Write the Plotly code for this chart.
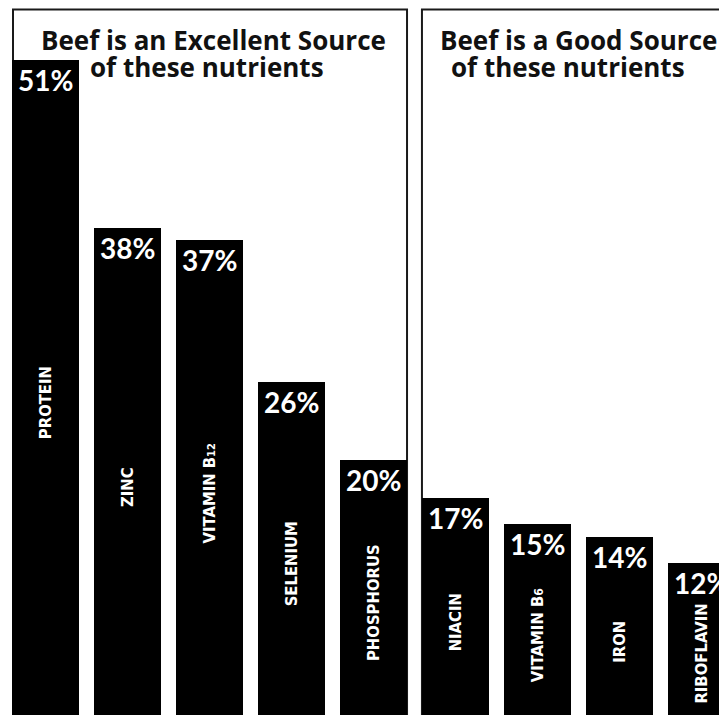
import plotly.graph_objects as go

# ---- data ----
nutrients = ["PROTEIN", "ZINC", "VITAMIN B12", "SELENIUM", "PHOSPHORUS",
             "NIACIN", "VITAMIN B6", "IRON", "RIBOFLAVIN"]
name_labels = ["PROTEIN", "ZINC",
               "VITAMIN B<span style='font-size:11px'>12</span>",
               "SELENIUM", "PHOSPHORUS", "NIACIN",
               "VITAMIN B<span style='font-size:12px'>6</span>",
               "IRON", "RIBOFLAVIN"]
values = [51, 38, 37, 26, 20, 17, 15, 14, 12]
pct_labels = [f"{v}%" for v in values]
titles = [["Beef is an Excellent Source", "of these nutrients"],
          ["Beef is a Good Source", "of these nutrients"]]

# page body has an 8px margin; size the figure so it fills the 727x715 window
OFF = 8
W, H = 727 - OFF, 715 - OFF
TITLE_FONT = "'Open Sans', Lato, sans-serif"
PCT_FONT = "Lato, 'Open Sans', sans-serif"
NAME_FONT = "'Liberation Sans Narrow', 'DejaVu Sans Condensed', 'DejaVu Sans', sans-serif"


def px_x(p):
    return (p - OFF) / W


def px_y(p):
    return 1 - (p - OFF) / H


fig = go.Figure()
fig.add_trace(go.Bar(
    x=nutrients, y=values, width=0.817,
    marker=dict(color="#000000", line=dict(width=0)),
    hoverinfo="skip", showlegend=False,
))

annotations = []
for n, v, p, lab in zip(nutrients, values, pct_labels, name_labels):
    annotations.append(dict(
        x=n, y=v, xref="x", yref="y", text=f"<b>{p}</b>", showarrow=False,
        yanchor="top", xanchor="center", yshift=-1,
        font=dict(family=PCT_FONT, size=28, color="white")))
    annotations.append(dict(
        x=n, y=v / 2, xref="x", yref="y", text=f"<b>{lab}</b>", showarrow=False,
        textangle=-90, yanchor="middle", xanchor="center", yshift=-14,
        font=dict(family=NAME_FONT, size=16.5, color="white")))

# titles
for (l1, l2), cx1, cx2 in zip(titles, [213, 578], [207, 568]):
    annotations.append(dict(
        x=px_x(cx1), y=px_y(40), xref="paper", yref="paper", text=f"<b>{l1}</b>",
        showarrow=False, xanchor="center", yanchor="middle",
        font=dict(family=TITLE_FONT, size=26, color="#111111")))
    annotations.append(dict(
        x=px_x(cx2), y=px_y(67), xref="paper", yref="paper", text=f"<b>{l2}</b>",
        showarrow=False, xanchor="center", yanchor="middle",
        font=dict(family=TITLE_FONT, size=26, color="#111111")))

shapes = [
    dict(type="rect", xref="x", yref="paper", x0=-0.396, x1=4.409,
         y0=-0.1, y1=px_y(9.5), line=dict(color="#1a1a1a", width=2),
         fillcolor="rgba(0,0,0,0)", layer="below"),
    dict(type="rect", xref="x", yref="paper", x0=4.591, x1=9.5,
         y0=-0.1, y1=px_y(9.5), line=dict(color="#1a1a1a", width=2),
         fillcolor="rgba(0,0,0,0)", layer="below"),
]

fig.update_layout(
    width=W, height=H,
    margin=dict(l=0, r=0, t=0, b=0),
    paper_bgcolor="white", plot_bgcolor="white",
    xaxis=dict(range=[-0.457, 8.311], visible=False, fixedrange=True),
    yaxis=dict(range=[0.19, 55.03], visible=False, fixedrange=True),
    annotations=annotations, shapes=shapes,
    bargap=0,
)

fig.write_html("out.html")
